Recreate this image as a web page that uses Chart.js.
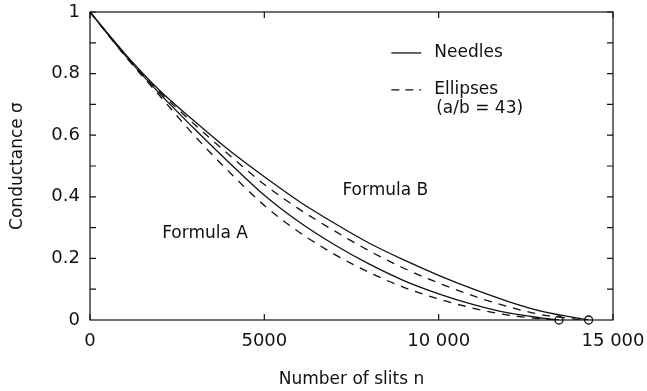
<!DOCTYPE html>
<html>
<head>
<meta charset="utf-8">
<script src="https://cdn.jsdelivr.net/npm/chart.js@4"></script>
<style>
  html, body { margin: 0; padding: 0; background: #fff; }
</style>
</head>
<body>
<canvas id="chart" width="647" height="391"></canvas>
<script>
// number of slits n (shared grid)
const slits = [0, 1000, 2000, 3000, 4000, 5000, 6000, 7000, 8000, 9000, 10000, 11000, 12000, 13000, 14000];

// conductance
const needlesB  = [1, 0.865, 0.745, 0.645, 0.55, 0.465, 0.385, 0.315, 0.25, 0.195, 0.145, 0.10, 0.06, 0.027, 0.006];
const ellipsesB = [1, 0.862, 0.74, 0.635, 0.535, 0.44, 0.36, 0.29, 0.225, 0.168, 0.12, 0.078, 0.043, 0.016, 0.002];
const needlesA  = [1, 0.86, 0.735, 0.62, 0.51, 0.405, 0.318, 0.245, 0.182, 0.128, 0.085, 0.05, 0.023, 0.006];
const ellipsesA = [1, 0.858, 0.728, 0.598, 0.48, 0.372, 0.285, 0.214, 0.155, 0.106, 0.068, 0.038, 0.016, 0.003];

// where each curve reaches zero
const endB = 14300, endEllB = 14100, endA = 13450, endEllA = 13300;
const thresholds = [endA, endB];

const xTicks = [0, 5000, 10000, 15000];
const yTicks = [0, 0.2, 0.4, 0.6, 0.8, 1];

function pts(xs, ys, end) {
  var out = ys.map((y, i) => ({x: xs[i], y: y}));
  out.push({x: end, y: 0});
  return out;
}

function fmtX(v) {
  return v >= 10000 ? String(v).replace(/\B(?=(\d{3})+(?!\d))/g, ' ') : String(v);
}

const FONT = 'DejaVu Sans';

const framePlugin = {
  id: 'frame',
  afterDraw(chart) {
    const ctx = chart.ctx;
    const a = chart.chartArea;
    const xs = chart.scales.x, ys = chart.scales.y;
    ctx.save();
    ctx.strokeStyle = '#111';
    ctx.lineWidth = 1.2;
    ctx.strokeRect(a.left, a.top, a.right - a.left, a.bottom - a.top);
    ctx.beginPath();
    for (let v = 0.1; v < 1; v += 0.1) {
      const y = ys.getPixelForValue(v);
      ctx.moveTo(a.left, y); ctx.lineTo(a.left + 6, y);
      ctx.moveTo(a.right, y); ctx.lineTo(a.right - 6, y);
    }
    xTicks.forEach(v => {
      const x = xs.getPixelForValue(v);
      ctx.moveTo(x, a.bottom); ctx.lineTo(x, a.bottom - 6);
      ctx.moveTo(x, a.top); ctx.lineTo(x, a.top + 6);
    });
    ctx.stroke();

    // labels and legend
    ctx.fillStyle = '#111';
    ctx.font = '17px "' + FONT + '"';
    ctx.textBaseline = 'middle';
    ctx.textAlign = 'left';
    const px = v => xs.getPixelForValue(v), py = v => ys.getPixelForValue(v);
    ctx.fillText('Formula A', px(2070), py(0.282));
    ctx.fillText('Formula B', px(7240), py(0.419));

    ctx.fillText('Needles', px(9874), py(0.867));
    ctx.fillText('Ellipses', px(9874), py(0.747));
    ctx.fillText('(a/b = 43)', px(9930), py(0.688));

    ctx.lineWidth = 1.3;
    ctx.beginPath();
    ctx.moveTo(px(8643), py(0.867)); ctx.lineTo(px(9500), py(0.867));
    ctx.stroke();
    ctx.setLineDash([8, 6]);
    ctx.beginPath();
    ctx.moveTo(px(8643), py(0.747)); ctx.lineTo(px(9500), py(0.747));
    ctx.stroke();
    ctx.restore();
  }
};

const lineStyle = {
  showLine: true,
  borderColor: '#111',
  borderWidth: 1.3,
  pointRadius: 0,
  cubicInterpolationMode: 'monotone',
  fill: false
};

new Chart(document.getElementById('chart'), {
  type: 'scatter',
  data: {
    datasets: [
      Object.assign({label: 'Needles B', data: pts(slits, needlesB, endB)}, lineStyle),
      Object.assign({label: 'Ellipses B', data: pts(slits, ellipsesB, endEllB), borderDash: [8, 7]}, lineStyle),
      Object.assign({label: 'Needles A', data: pts(slits, needlesA, endA)}, lineStyle),
      Object.assign({label: 'Ellipses A', data: pts(slits, ellipsesA, endEllA), borderDash: [8, 7]}, lineStyle),
      {
        label: 'threshold',
        data: thresholds.map(n => ({x: n, y: 0})),
        showLine: false,
        pointRadius: 4,
        pointBackgroundColor: '#fff',
        pointBorderColor: '#111',
        pointBorderWidth: 1.3,
        clip: false
      }
    ]
  },
  options: {
    responsive: false,
    animation: false,
    devicePixelRatio: 1,
    layout: { padding: { top: 12, right: 34, bottom: 0, left: 0 } },
    plugins: { legend: { display: false }, tooltip: { enabled: false } },
    scales: {
      x: {
        type: 'linear',
        min: 0, max: 15000,
        afterBuildTicks: s => { s.ticks = xTicks.map(v => ({value: v})); },
        afterFit: s => { s.height = 71; s.paddingLeft = 0; s.paddingRight = 0; },
        grid: { display: false, drawTicks: false },
        border: { display: false },
        ticks: {
          color: '#111', padding: 11, maxRotation: 0,
          font: { family: FONT, size: 18 },
          callback: v => fmtX(v)
        },
        title: {
          display: true, text: 'Number of slits n', color: '#111',
          font: { family: FONT, size: 17 }, padding: { top: 0, bottom: 1 }
        }
      },
      y: {
        min: 0, max: 1,
        afterBuildTicks: s => { s.ticks = yTicks.map(v => ({value: v})); },
        afterFit: s => { s.width = 90; s.paddingTop = 0; s.paddingBottom = 0; },
        grid: { display: false, drawTicks: false },
        border: { display: false },
        ticks: {
          color: '#111', padding: 10,
          font: { family: FONT, size: 18 },
          callback: v => String(Math.round(v * 10) / 10)
        },
        title: {
          display: true, text: 'Conductance σ', color: '#111',
          font: { family: FONT, size: 17 }, padding: { top: 7, bottom: 6 }
        }
      }
    }
  },
  plugins: [framePlugin]
});
</script>
</body>
</html>
